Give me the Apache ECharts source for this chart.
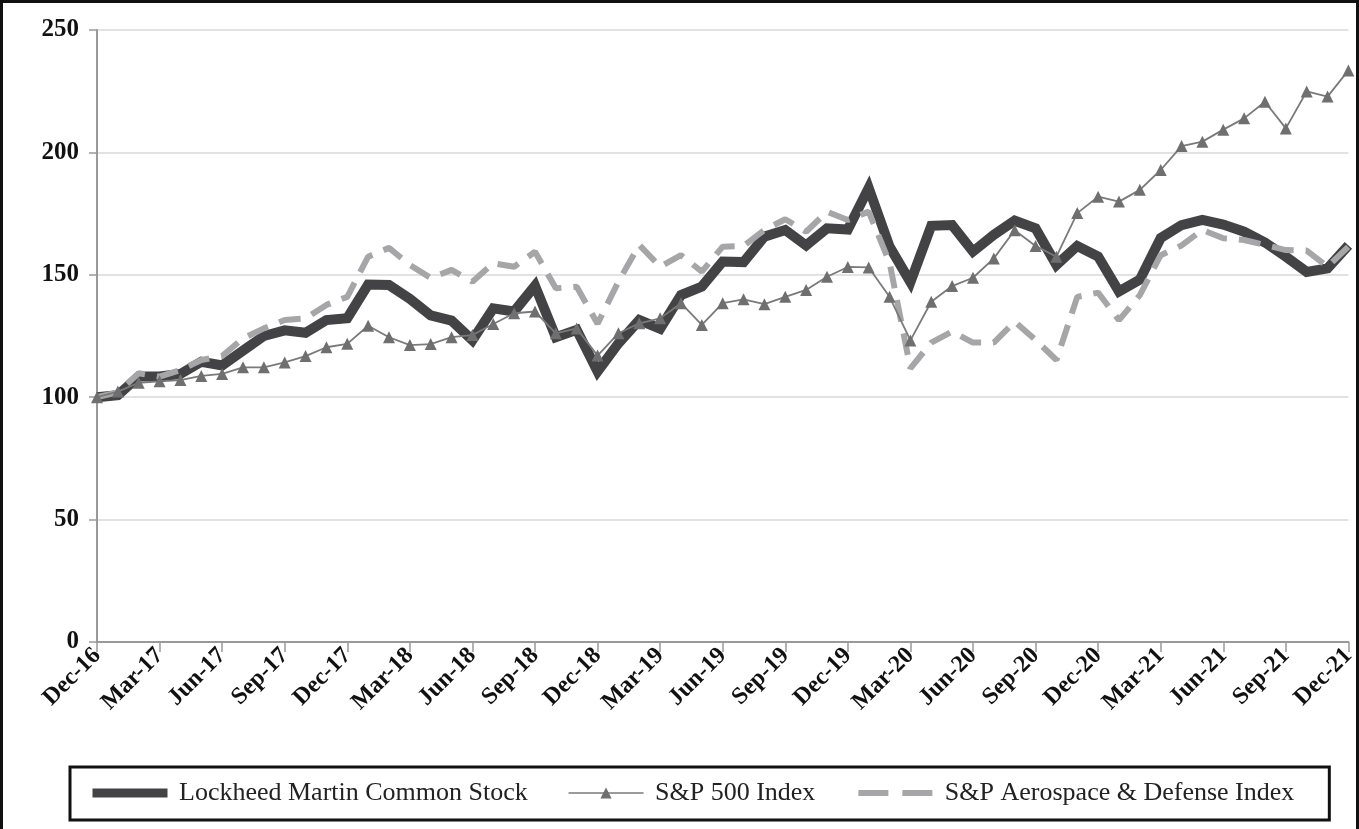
<!DOCTYPE html>
<html lang="en">
<head>
    <meta charset="UTF-8">
    <title>Stock performance</title>
    <script type="text/javascript" src="https://cdn.jsdelivr.net/npm/echarts@6/dist/echarts.min.js"></script>
    <style>
        body { margin: 0; background: #fff; }
        #chart { width: 1359px; height: 829px; }
    </style>
</head>
<body>

<div id="chart"></div>

<script type="text/javascript">
    // month labels Dec-16 .. Dec-21
    var monthNames = ['Jan', 'Feb', 'Mar', 'Apr', 'May', 'Jun', 'Jul', 'Aug', 'Sep', 'Oct', 'Nov', 'Dec'];
    var months = ['Dec-16'];
    for (var yr = 17; yr <= 21; yr++) {
        for (var m = 0; m < 12; m++) {
            months.push(monthNames[m] + '-' + yr);
        }
    }

    var lockheed = [100, 100.8, 108.5, 108.5, 109.5, 114.5, 113, 119, 125, 127.3, 126.3, 131.5, 132.3,
        146, 145.8, 140.2, 133.4, 131.3, 123.3, 136.3, 135, 145.5, 124.5, 127.5, 110.5,
        122, 131.5, 128, 141.7, 145.2, 155.4, 155.2, 165.6, 168.3, 162, 169, 168.5,
        185.5, 161.5, 147, 170, 170.3, 159.5, 166.3, 172.1, 169, 154, 161.8, 157.5,
        143.2, 148, 165, 170.3, 172.4, 170.5, 167.6, 163.2, 157.4, 151.2, 152.6, 162];

    var sp500 = [100, 102.3, 105.9, 106.5, 107, 108.7, 109.5, 112.2, 112.2, 114.2, 116.8, 120.4, 121.8,
        129.2, 124.5, 121.3, 121.7, 124.5, 125.4, 129.9, 134.3, 135, 126.1, 128.1, 117,
        126.1, 130.2, 132.2, 138.4, 129.5, 138.4, 140, 138, 141, 143.8, 149.2, 153.2,
        153, 141, 123.2, 139, 145.4, 148.8, 156.7, 168.2, 161.8, 157.4, 175.2, 181.9,
        179.9, 184.7, 192.8, 202.6, 204.4, 209.3, 213.9, 220.7, 209.8, 224.9, 222.8, 233.5];

    var aerospace = [100, 102, 109.8, 108.4, 111.1, 115.2, 116.8, 124, 128.1, 131.5, 132.2, 137.7, 141,
        157.4, 161, 154, 148.7, 152, 147.2, 154.7, 153.3, 159.4, 144.5, 145.1, 130,
        147.2, 162.2, 153.3, 158, 151.3, 161.5, 161.8, 168.3, 172.7, 167.6, 175.8, 172.4,
        175.8, 155, 111.8, 122.3, 126.8, 122.3, 122.3, 130.9, 123.4, 115.2, 141, 142.7,
        131.5, 141.7, 158, 162, 168.3, 164.9, 164.2, 162.2, 160.1, 159.9, 153.3, 161.5];

    var names = ['Lockheed Martin Common Stock', 'S&P 500 Index', 'S&P Aerospace & Defense Index'];

    var serif = 'Liberation Serif';

    var myChart = echarts.init(document.getElementById('chart'));
    var option = {
        animation: false,
        backgroundColor: '#fff',
        graphic: [{
            type: 'rect',
            shape: { x: 1.5, y: 1.5, width: 1356, height: 860 },
            style: { fill: 'none', stroke: '#111', lineWidth: 3 },
            silent: true
        }],
        grid: { left: 97, right: 5, top: 30, bottom: 187 },
        legend: {
            left: 70,
            top: 767,
            padding: [13, 35, 14, 18],
            borderColor: '#111',
            borderWidth: 3,
            itemWidth: 75,
            itemHeight: 14,
            itemGap: 40,
            formatter: function (name) { return ' ' + name; },
            textStyle: { fontFamily: serif, fontSize: 26, color: '#222' },
            data: [
                { name: names[0], lineStyle: { width: 9 }, itemStyle: { opacity: 0 } },
                { name: names[1], lineStyle: { width: 1.5 } },
                { name: names[2], lineStyle: { width: 6, type: [30, 14] }, itemStyle: { opacity: 0 } }
            ]
        },
        xAxis: {
            type: 'category',
            boundaryGap: false,
            data: months,
            axisLine: { lineStyle: { color: '#999', width: 2 } },
            axisTick: { interval: 2, length: 10, lineStyle: { color: '#999', width: 1.5 } },
            axisLabel: {
                interval: 2,
                rotate: 45,
                margin: 10,
                fontFamily: serif,
                fontWeight: 'bold',
                fontSize: 24,
                color: '#111'
            },
            splitLine: { show: false }
        },
        yAxis: {
            type: 'value',
            min: 0,
            max: 250,
            interval: 50,
            axisLine: { show: true, lineStyle: { color: '#999', width: 2 } },
            axisTick: { show: true, length: 8, lineStyle: { color: '#999', width: 1.5 } },
            axisLabel: {
                margin: 18,
                fontFamily: serif,
                fontWeight: 'bold',
                fontSize: 25,
                color: '#111'
            },
            splitLine: { lineStyle: { color: '#e2e2e2', width: 2 } }
        },
        series: [
            {
                name: names[0],
                type: 'line',
                data: lockheed,
                symbol: 'none',
                z: 2,
                lineStyle: { color: '#434345', width: 10, join: 'miter' },
                itemStyle: { color: '#434345' }
            },
            {
                name: names[1],
                type: 'line',
                data: sp500,
                symbol: 'triangle',
                symbolSize: 12,
                showAllSymbol: true,
                z: 4,
                lineStyle: { color: '#7a7a7a', width: 1.8 },
                itemStyle: { color: '#6f6f6f' }
            },
            {
                name: names[2],
                type: 'line',
                data: aerospace,
                symbol: 'none',
                z: 3,
                lineStyle: { color: '#a6a6a8', width: 6, type: [22, 12] },
                itemStyle: { color: '#a6a6a8' }
            }
        ]
    };

    if (option && typeof option === "object") {
        myChart.setOption(option, true);
    }
</script>

</body>
</html>
